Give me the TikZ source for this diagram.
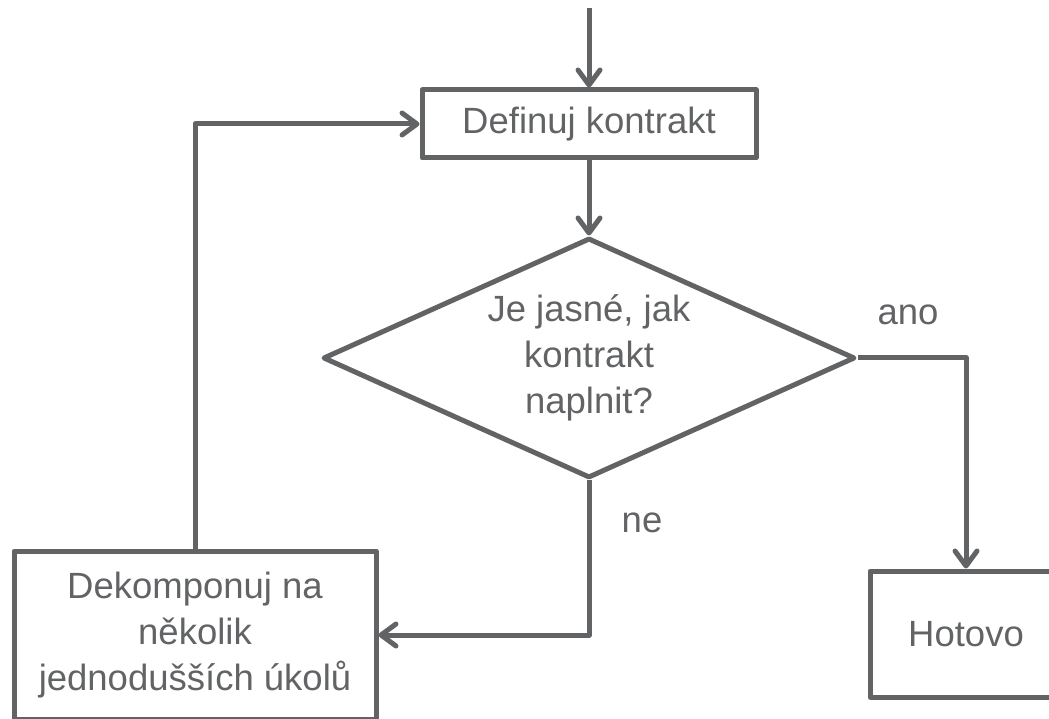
\documentclass[tikz,border=0pt]{standalone}
\usepackage{fontspec}
\setmainfont{Liberation Sans}
\usetikzlibrary{shapes.geometric,arrows.meta}
\definecolor{fg}{RGB}{98,99,101}
\tikzset{
  boxnode/.style={draw=fg, rectangle, inner sep=0pt, align=center, text=fg, font=\fontsize{36.5}{46}\selectfont},
  decnode/.style={draw=fg, diamond, aspect=2.2167, inner sep=0pt, align=center, text=fg, font=\fontsize{36.5}{46}\selectfont, minimum width=532pt, minimum height=240pt},
  lbl/.style={text=fg, inner sep=0pt, anchor=base, font=\fontsize{36.5}{46}\selectfont},
  conn/.style={draw=fg, line width=5pt, -{Straight Barb[length=15pt,width=22pt,line cap=round,line join=round]}}
}
\begin{document}
\begin{tikzpicture}[x=1pt,y=1pt,line width=5pt,line join=round]
\useasboundingbox (0,0) rectangle (1049,718);
\clip (0,0) rectangle (1049,718);
\node[boxnode, minimum width=334pt, minimum height=68pt] (def) at (589,594) {Definuj kontrakt};
\node[decnode] (dia) at (589,360) {Je jasné, jak\\kontrakt\\naplnit?};
\node[boxnode, minimum width=192pt, minimum height=126pt] (hot) at (966,84) {Hotovo};
\node[boxnode, minimum width=362pt, minimum height=168pt] (dek) at (195,83) {Dekomponuj na\\několik\\jednodušších úkolů};
\node[lbl] (ano) at (908,393) {ano};
\node[lbl] (ne) at (642,186) {ne};
\coordinate (start) at (589,710);
\draw[conn] (start) -- (def.north);
\draw[conn] (def.south) -- (dia.north);
\draw[conn] (dia.east) -- (hot.north |- dia.east) -- (hot.north);
\draw[conn] (dia.south) -- (dia.south |- dek.east) -- (dek.east);
\draw[conn] (dek.north) -- (dek.north |- def.west) -- (def.west);
\end{tikzpicture}
\end{document}
